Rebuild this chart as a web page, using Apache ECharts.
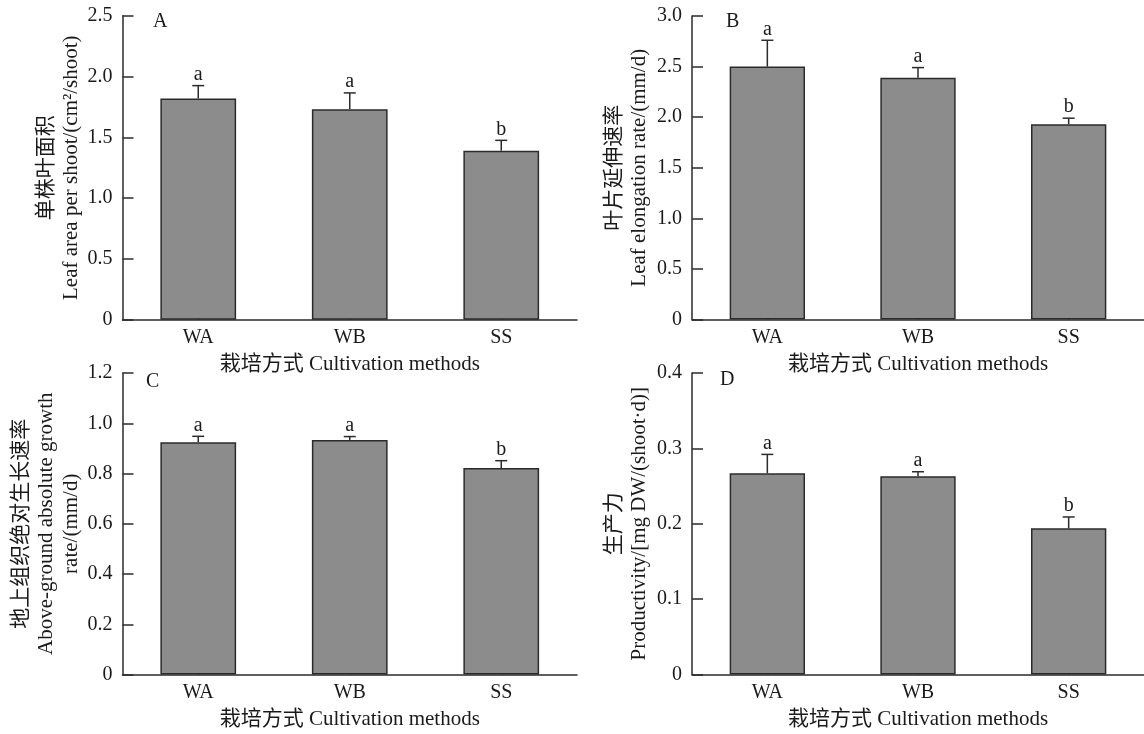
<!DOCTYPE html>
<html>
<head>
<meta charset="utf-8">
<script src="https://cdn.jsdelivr.net/npm/echarts@6/dist/echarts.min.js"></script>
<style>
html,body{margin:0;padding:0;background:#fff;}
#chart{width:1144px;height:734px;}
</style>
</head>
<body>
<div id="chart"></div>
<script>
// ---- data ----
const categories = ['WA', 'WB', 'SS'];

const leafAreaMean = [1.82, 1.73, 1.39];
const leafAreaSE = [0.105, 0.135, 0.085];
const leafAreaLetters = ['a', 'a', 'b'];

const elongMean = [2.50, 2.39, 1.93];
const elongSE = [0.26, 0.10, 0.06];
const elongLetters = ['a', 'a', 'b'];

const growthMean = [0.924, 0.933, 0.822];
const growthSE = [0.024, 0.014, 0.029];
const growthLetters = ['a', 'a', 'b'];

const prodMean = [0.267, 0.263, 0.194];
const prodSE = [0.025, 0.006, 0.015];
const prodLetters = ['a', 'a', 'b'];

const panelLetters = ['A', 'B', 'C', 'D'];
const xAxisName = '栽培方式 Cultivation methods';
const yNames = [
  '单株叶面积\nLeaf area per shoot/(cm²/shoot)',
  '叶片延伸速率\nLeaf elongation rate/(mm/d)',
  '地上组织绝对生长速率\nAbove-ground absolute growth\nrate/(mm/d)',
  '生产力\nProductivity/[mg DW/(shoot·d)]'
];
const yMax = [2.5, 3.0, 1.2, 0.4];
const yInterval = [0.5, 0.5, 0.2, 0.1];

// ---- layout / style ----
const FONT = '"Liberation Serif", "Times New Roman", "Noto Sans CJK SC", serif';
const INK = '#1a1a1a';
const LINE = '#2b2b2b';
const BAR = '#8c8c8c';

const grids = [
  {left: 122.5, top: 15.7, width: 454.5, height: 304},
  {left: 692, top: 16, width: 452, height: 303.5},
  {left: 122.5, top: 373, width: 454.5, height: 301.5},
  {left: 692, top: 373, width: 452, height: 301.5}
];
const nameGaps = [38, 40, 38, 40];
const panelLabelPos = [[153, 12], [726, 12], [146, 372], [720, 370]];

const panels = [
  {mean: leafAreaMean, se: leafAreaSE, letters: leafAreaLetters},
  {mean: elongMean, se: elongSE, letters: elongLetters},
  {mean: growthMean, se: growthSE, letters: growthLetters},
  {mean: prodMean, se: prodSE, letters: prodLetters}
];

const xAxes = [], yAxes = [], series = [], titles = [];
panels.forEach((p, i) => {
  xAxes.push({
    type: 'category', gridIndex: i, data: categories,
    axisLine: {show: true, lineStyle: {color: LINE, width: 1.5}},
    axisTick: {show: true, inside: true, alignWithLabel: true, length: 5, lineStyle: {color: LINE, width: 1.5}},
    axisLabel: {color: INK, fontFamily: FONT, fontSize: 20, margin: 8},
    name: xAxisName, nameLocation: 'middle', nameGap: 34,
    nameTextStyle: {color: INK, fontFamily: FONT, fontSize: 21},
    splitLine: {show: false}
  });
  yAxes.push({
    type: 'value', gridIndex: i, min: 0, max: yMax[i], interval: yInterval[i],
    axisLine: {show: true, lineStyle: {color: LINE, width: 1.5}},
    axisTick: {show: true, inside: true, length: 11, lineStyle: {color: LINE, width: 1.5}},
    axisLabel: {color: INK, fontFamily: FONT, fontSize: 20, margin: 10,
      formatter: v => (v === 0 ? '0' : v.toFixed(1))},
    splitLine: {show: false},
    name: yNames[i], nameLocation: 'middle', nameRotate: 90, nameGap: nameGaps[i],
    nameTextStyle: {color: INK, fontFamily: FONT, fontSize: 21, lineHeight: 25, align: 'center'}
  });
  series.push({
    type: 'bar', xAxisIndex: i, yAxisIndex: i, data: p.mean, barWidth: '50%',
    itemStyle: {color: BAR, borderColor: LINE, borderWidth: 1.5},
    silent: true, animation: false
  });
  const letters = p.letters;
  series.push({
    type: 'custom', xAxisIndex: i, yAxisIndex: i, animation: false, silent: true, z: 5,
    data: p.mean.map((m, k) => [k, m, p.se[k]]),
    renderItem: function (params, api) {
      const x = api.value(0), m = api.value(1), s = api.value(2);
      const p0 = api.coord([x, m]);
      const p1 = api.coord([x, m + s]);
      const half = 6;
      return {
        type: 'group',
        children: [
          {type: 'line', shape: {x1: p0[0], y1: p0[1], x2: p1[0], y2: p1[1]},
            style: {stroke: LINE, lineWidth: 1.5}},
          {type: 'line', shape: {x1: p1[0] - half, y1: p1[1], x2: p1[0] + half, y2: p1[1]},
            style: {stroke: LINE, lineWidth: 1.5}},
          {type: 'text', x: p1[0], y: p1[1] - 1,
            style: {text: letters[params.dataIndex], fill: INK, font: '20px ' + FONT,
              align: 'center', verticalAlign: 'bottom'}}
        ]
      };
    }
  });
  titles.push({
    text: panelLetters[i], left: panelLabelPos[i][0], top: panelLabelPos[i][1], padding: 0,
    textStyle: {color: INK, fontFamily: FONT, fontSize: 20, fontWeight: 'normal'}
  });
});

const chart = echarts.init(document.getElementById('chart'), null, {renderer: 'canvas'});
chart.setOption({
  animation: false,
  backgroundColor: '#fff',
  title: titles,
  grid: grids,
  xAxis: xAxes,
  yAxis: yAxes,
  series: series
});
</script>
</body>
</html>
